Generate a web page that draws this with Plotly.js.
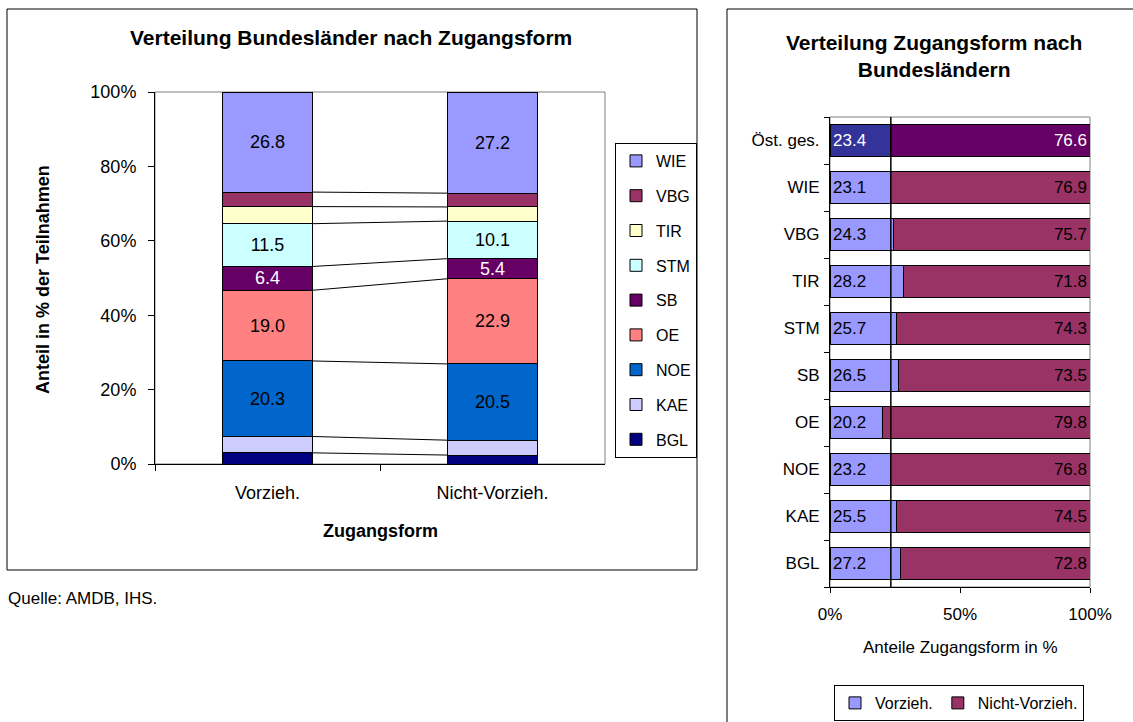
<!DOCTYPE html>
<html><head><meta charset="utf-8">
<script src="https://cdn.plot.ly/plotly-3.0.1.min.js"></script>
<style>html,body{margin:0;padding:0;background:#fff}#chart{width:1133px;height:722px}</style>
</head><body><div id="chart"></div>
<script>
// ---- Left chart data: share of each Bundesland within each access form (%)
const regions = ['BGL','KAE','NOE','OE','SB','STM','TIR','VBG','WIE'];
const accessForms = ['Vorzieh.','Nicht-Vorzieh.'];
const shareVorzieh = [3.0, 4.4, 20.3, 19.0, 6.4, 11.5, 4.6, 3.9, 26.8];
const shareNichtVorzieh = [2.4, 4.0, 20.5, 22.9, 5.4, 10.1, 3.8, 3.7, 27.2];
const labelledRegions = ['NOE','OE','SB','STM','WIE'];
const leftTicks = [0, 20, 40, 60, 80, 100];
const leftTickLabels = ['0%', '20%', '40%', '60%', '80%', '100%'];

// ---- Right chart data: share of access form within each Bundesland (%)
const rightCategories = ['BGL','KAE','NOE','OE','SB','STM','TIR','VBG','WIE','Öst. ges.'];
const rightVorzieh = [27.2, 25.5, 23.2, 20.2, 26.5, 25.7, 28.2, 24.3, 23.1, 23.4];
const rightNichtVorzieh = [72.8, 74.5, 76.8, 79.8, 73.5, 74.3, 71.8, 75.7, 76.9, 76.6];
const rightSeries = ['Vorzieh.','Nicht-Vorzieh.'];
const rightTicks = [0, 50, 100];
const rightTickLabels = ['0%', '50%', '100%'];

// ---- styles
const regionColors = ['#000080','#CCCCFF','#0066CC','#FF8080','#660066','#CCFFFF','#FFFFCC','#993366','#9999FF'];
const regionTextColors = {SB:'#FFFFFF'};
const FONT = '"Liberation Sans", Arial, Helvetica, sans-serif';
const W = 1133, H = 722;
const px = v => v / W;
const py = v => 1 - v / H;
const leftBarWidth = 0.4;
const rightBarWidth = 0.7;

const traces = [];
regions.forEach((r, i) => {
  const vals = [shareVorzieh[i], shareNichtVorzieh[i]];
  const lab = labelledRegions.includes(r);
  traces.push({
    type: 'bar', name: r, x: accessForms, y: vals,
    xaxis: 'x', yaxis: 'y', width: leftBarWidth,
    marker: {color: regionColors[i], line: {color: '#000', width: 1}},
    text: lab ? vals.map(v => v.toFixed(1)) : undefined,
    textposition: lab ? 'inside' : 'none',
    insidetextanchor: 'middle', textangle: 0, constraintext: 'none',
    textfont: {family: FONT, size: 18, color: regionTextColors[r] || '#000'},
    legend: 'legend', legendgroup: r, legendrank: regions.length - i, hoverinfo: 'skip'
  });
});

const lastIdx = rightCategories.length - 1;
const rightColors = [
  rightCategories.map((c, i) => i === lastIdx ? '#333399' : '#9999FF'),
  rightCategories.map((c, i) => i === lastIdx ? '#660066' : '#993366')
];
const rightTextColors = rightCategories.map((c, i) => i === lastIdx ? '#FFFFFF' : '#000000');
[rightVorzieh, rightNichtVorzieh].forEach((vals, k) => {
  traces.push({
    type: 'bar', orientation: 'h', name: rightSeries[k],
    x: vals, y: rightCategories, xaxis: 'x2', yaxis: 'y2', width: rightBarWidth,
    marker: {color: rightColors[k], line: {color: '#000', width: 1}},
    text: vals.map(v => v.toFixed(1)), textposition: 'inside',
    insidetextanchor: k === 0 ? 'start' : 'end', textangle: 0, constraintext: 'none',
    textfont: {family: FONT, size: 17, color: rightTextColors},
    legend: 'legend2', legendrank: k + 1, hoverinfo: 'skip'
  });
});

// series lines between the stacked bars (Excel style)
const shapes = [];
let cv = 0, cn = 0;
for (let i = 0; i < regions.length - 1; i++) {
  cv += shareVorzieh[i]; cn += shareNichtVorzieh[i];
  shapes.push({type: 'line', xref: 'x', yref: 'y', x0: 0 + leftBarWidth / 2, x1: 1 - leftBarWidth / 2,
    y0: cv, y1: cn, line: {color: '#000', width: 1}, layer: 'below'});
}
// plot-area frames
shapes.push({type: 'rect', xref: 'x domain', yref: 'y domain', x0: 0, x1: 1, y0: 0, y1: 1, line: {color: '#808080', width: 1}, layer: 'below'});
shapes.push({type: 'rect', xref: 'x2 domain', yref: 'y2 domain', x0: 0, x1: 1, y0: 0, y1: 1, line: {color: '#808080', width: 1}, layer: 'below'});
// reference line at Austrian total
shapes.push({type: 'line', xref: 'x2', yref: 'y2 domain', x0: rightVorzieh[lastIdx], x1: rightVorzieh[lastIdx], y0: 0, y1: 1, line: {color: '#000', width: 1.5}});
// chart borders
shapes.push({type: 'rect', xref: 'paper', yref: 'paper', x0: px(7), x1: px(697), y0: py(570), y1: py(9), line: {color: '#000', width: 1}});
shapes.push({type: 'rect', xref: 'paper', yref: 'paper', x0: px(727), x1: px(1145), y0: py(735), y1: py(9), line: {color: '#000', width: 1}});

const annotations = [
  {text: '<b>Verteilung Bundesländer nach Zugangsform</b>', x: px(351), y: py(38), font: {size: 21}},
  {text: '<b>Anteil in % der Teilnahmen</b>', x: px(43), y: py(280), textangle: -90, font: {size: 18}},
  {text: '<b>Zugangsform</b>', x: px(380), y: py(531), font: {size: 18}},
  {text: 'Quelle: AMDB, IHS.', x: px(6), y: py(598), xanchor: 'left', font: {size: 17}},
  {text: '<b>Verteilung Zugangsform nach<br>Bundesländern</b>', x: px(934), y: py(56), font: {size: 21}},
  {text: 'Anteile Zugangsform in %', x: px(960), y: py(647), font: {size: 17}}
].map(a => Object.assign({xref: 'paper', yref: 'paper', showarrow: false, xanchor: 'center', yanchor: 'middle'}, a));

const layout = {
  width: W, height: H, margin: {l: 0, r: 0, t: 0, b: 0},
  paper_bgcolor: '#fff', plot_bgcolor: 'rgba(0,0,0,0)',
  font: {family: FONT, size: 16, color: '#000'},
  barmode: 'stack', hovermode: false, showlegend: true,
  xaxis: {domain: [px(155), px(605)], anchor: 'y', type: 'category', range: [-0.5, 1.5],
    showline: true, linecolor: '#000', linewidth: 1, ticks: 'outside', ticklen: 6, tickcolor: '#000',
    tickson: 'boundaries', showgrid: false, zeroline: false, tickfont: {size: 18}, ticklabelstandoff: 12, fixedrange: true},
  yaxis: {domain: [py(464), py(92)], anchor: 'x', range: [0, 100], tickmode: 'array', tickvals: leftTicks, ticktext: leftTickLabels,
    showline: true, linecolor: '#000', linewidth: 1, ticks: 'outside', ticklen: 6, tickcolor: '#000',
    showgrid: false, zeroline: false, tickfont: {size: 18}, ticklabelstandoff: 8, fixedrange: true},
  xaxis2: {domain: [px(830), px(1090)], anchor: 'y2', range: [0, 100], tickmode: 'array', tickvals: rightTicks, ticktext: rightTickLabels,
    showline: true, linecolor: '#000', linewidth: 1, ticks: 'outside', ticklen: 5, tickcolor: '#000',
    showgrid: false, zeroline: false, tickfont: {size: 17}, ticklabelstandoff: 7, fixedrange: true},
  yaxis2: {domain: [py(587), py(117)], anchor: 'x2', type: 'category', range: [-0.5, rightCategories.length - 0.5],
    showline: true, linecolor: '#000', linewidth: 1, ticks: 'outside', ticklen: 5, tickcolor: '#000',
    tickson: 'boundaries', showgrid: false, zeroline: false, tickfont: {size: 17}, ticklabelstandoff: 6, fixedrange: true},
  legend: {x: px(697), xanchor: 'right', y: py(143), yanchor: 'top', bordercolor: '#000', borderwidth: 1,
    bgcolor: '#fff', font: {size: 16}, traceorder: 'grouped', tracegroupgap: 11},
  legend2: {orientation: 'h', x: px(959), xanchor: 'center', y: py(685), yanchor: 'top', bordercolor: '#000', borderwidth: 1,
    bgcolor: '#fff', font: {size: 16}, traceorder: 'normal'},
  shapes: shapes, annotations: annotations
};

Plotly.newPlot('chart', traces, layout, {displayModeBar: false, staticPlot: true});
</script>
</body></html>
